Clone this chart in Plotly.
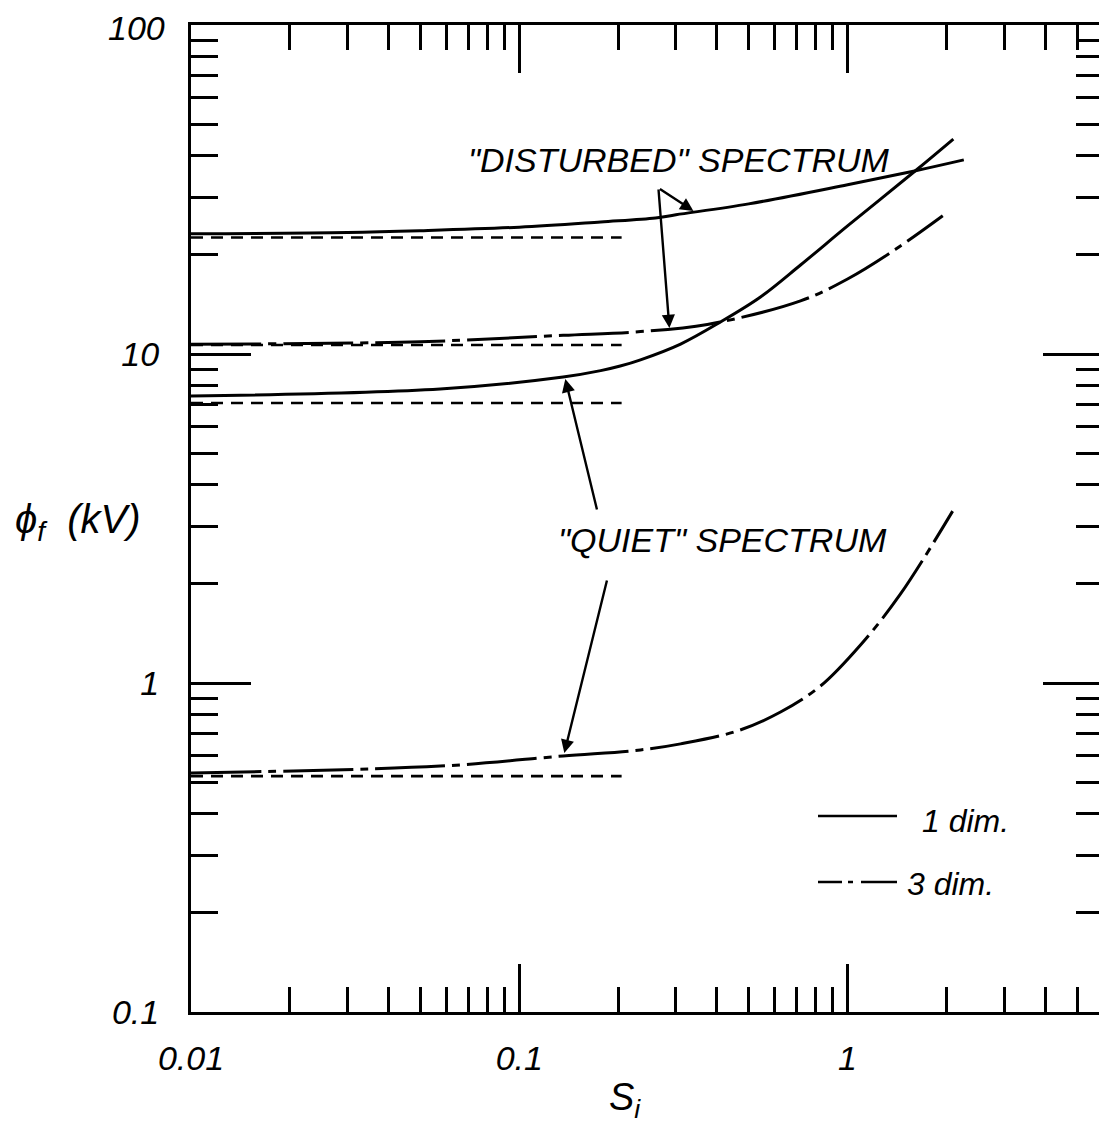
import math
import plotly.graph_objects as go

# ---- data ----
# "Disturbed" spectrum, 1-dim (solid)
x_dist1 = [0.01, 0.03, 0.05, 0.1, 0.177, 0.26, 0.3, 0.5, 1.0, 1.6, 2.26]
y_dist1 = [23.2, 23.4, 23.7, 24.3, 25.2, 25.9, 26.5, 28.6, 32.7, 36.0, 38.9]
# "Disturbed" spectrum, 3-dim (dash-dot)
x_dist3 = [0.01, 0.05, 0.136, 0.234, 0.374, 0.719, 1.0, 1.4, 1.95]
y_dist3 = [10.7, 10.9, 11.4, 11.7, 12.3, 14.5, 16.9, 20.8, 26.3]
# "Quiet" spectrum, 1-dim (solid)
x_quiet1 = [0.01, 0.0574, 0.136, 0.177, 0.203, 0.234, 0.31, 0.41, 0.543, 0.719, 1.0, 1.634, 2.10]
y_quiet1 = [7.45, 7.83, 8.51, 8.9, 9.19, 9.6, 10.72, 12.51, 14.9, 18.64, 24.5, 36.5, 45.0]
# "Quiet" spectrum, 3-dim (dash-dot)
x_quiet3 = [0.01, 0.0574, 0.136, 0.234, 0.31, 0.462, 0.625, 0.827, 1.095, 1.45, 2.09]
y_quiet3 = [0.533, 0.559, 0.60, 0.626, 0.653, 0.715, 0.816, 0.979, 1.305, 1.865, 3.33]
# low-S asymptotes (dashed)
asym_x = [0.01, 0.205]
asym_vals = [22.6, 10.65, 7.1, 0.521]

x_ticks = [0.01, 0.1, 1]
x_ticktext = ["0.01", "0.1", "1"]
y_ticks = [0.1, 1, 10, 100]
y_ticktext = ["0.1", "1", "10", ""]      # "100" is drawn as a label so it stays inside the page
y_top_label = "100"
x_minor = [m * d for d in (0.01, 0.1) for m in range(2, 10)] + [2, 3, 4, 5]
y_minor = [m * d for d in (0.1, 1, 10) for m in range(2, 10)]

legend_labels = ["1 dim.", "3 dim."]

FONT = "Liberation Sans"
LW = 3
DASHDOT = "70px,7px,8px,7px"

fig = go.Figure()

for v in asym_vals:
    fig.add_trace(go.Scatter(x=asym_x, y=[v, v], mode="lines",
                             line=dict(color="black", width=2.6, dash="12px,8px"),
                             showlegend=False, hoverinfo="skip"))

fig.add_trace(go.Scatter(x=x_dist1, y=y_dist1, mode="lines", line_shape="spline",
                         line=dict(color="black", width=LW), showlegend=False))
fig.add_trace(go.Scatter(x=x_quiet1, y=y_quiet1, mode="lines", line_shape="spline",
                         line=dict(color="black", width=LW), showlegend=False))
fig.add_trace(go.Scatter(x=x_dist3, y=y_dist3, mode="lines", line_shape="spline",
                         line=dict(color="black", width=LW, dash=DASHDOT), showlegend=False))
fig.add_trace(go.Scatter(x=x_quiet3, y=y_quiet3, mode="lines", line_shape="spline",
                         line=dict(color="black", width=LW, dash=DASHDOT), showlegend=False))

# page layout: the html body has an 8px margin, so the figure is sized to fit the window
BODY = 8
W, H = 1107 - BODY, 1124 - BODY
PL, PR, PT, PB = 191, 1103, 25, 1012          # plot-area edges on the page
L, T = PL - BODY, PT - BODY
R, B = W - (PR - BODY), H - (PB - BODY)
pw, ph = PR - PL, PB - PT


def px(xp):
    return (xp - PL) / pw


def py(yp):
    return (PB - yp) / ph


tickfont = dict(family=FONT, size=34, color="black", style="italic")

fig.update_xaxes(type="log", range=[-2, math.log10(6)],
                 tickmode="array", tickvals=x_ticks, ticktext=x_ticktext,
                 ticks="inside", ticklen=48, tickwidth=2.5, tickcolor="black",
                 showline=True, linewidth=3, linecolor="black", mirror="ticks",
                 showgrid=False, zeroline=False, tickfont=tickfont,
                 ticklabelstandoff=14,
                 minor=dict(tickmode="array", tickvals=x_minor, ticks="inside",
                            ticklen=25, tickwidth=2.5, tickcolor="black", showgrid=False))
fig.update_yaxes(type="log", range=[-1, 2],
                 tickmode="array", tickvals=y_ticks, ticktext=y_ticktext,
                 ticks="inside", ticklen=60, tickwidth=2.5, tickcolor="black",
                 showline=True, linewidth=3, linecolor="black", mirror="ticks",
                 showgrid=False, zeroline=False, tickfont=tickfont,
                 ticklabelstandoff=22,
                 minor=dict(tickmode="array", tickvals=y_minor, ticks="inside",
                            ticklen=27, tickwidth=2.5, tickcolor="black", showgrid=False))


def label(text, xp, yp, size, xanchor="center"):
    return dict(text=text, x=px(xp), y=py(yp), xref="paper", yref="paper",
                xanchor=xanchor, yanchor="middle", showarrow=False,
                font=dict(family=FONT, size=size, color="black", style="italic"))


annotations = [
    label('"DISTURBED" SPECTRUM', 679, 160, 34),
    label('"QUIET" SPECTRUM', 722, 540, 34),
    label("ϕ<sub>f</sub>  (kV)", 78, 522, 40),
    label("S<sub>i</sub>", 625, 1100, 38),
    label(legend_labels[0], 920, 821, 32, xanchor="left"),
    label(legend_labels[1], 905, 884, 32, xanchor="left"),
    dict(text=y_top_label, x=px(166), y=py(BODY), xref="paper", yref="paper",
         xanchor="right", yanchor="top", showarrow=False, borderpad=0,
         font=dict(family=FONT, size=34, color="black", style="italic")),
]

# arrows: tip on the curves (log-axis coordinates), tail offset in pixels
arrows = [
    ((693, 210), (-35, -23)),
    ((669, 327), (-11, -140)),
    ((565, 378), (32, 132)),
    ((564, 752), (43, -174)),
]
for (tx, ty), (ax, ay) in arrows:
    annotations.append(dict(x=(tx - 847) / 328.0, y=(682 - ty) / 329.0, xref="x", yref="y",
                            ax=ax, ay=ay, axref="pixel", ayref="pixel", text="",
                            showarrow=True, arrowhead=2, arrowsize=1.1, arrowwidth=2.4,
                            arrowcolor="black"))

shapes = [
    dict(type="line", xref="paper", yref="paper", x0=px(818), x1=px(897), y0=py(816), y1=py(816),
         line=dict(color="black", width=2.6)),
    dict(type="line", xref="paper", yref="paper", x0=px(818), x1=px(897), y0=py(882), y1=py(882),
         line=dict(color="black", width=2.6, dash="24px,6px,5px,8px,60px,10px")),
]

fig.update_layout(width=W, height=H, margin=dict(l=L, r=R, t=T, b=B, autoexpand=False),
                  plot_bgcolor="white", paper_bgcolor="white",
                  annotations=annotations, shapes=shapes, showlegend=False,
                  font=dict(family=FONT, color="black"))

fig.write_html("out.html")
